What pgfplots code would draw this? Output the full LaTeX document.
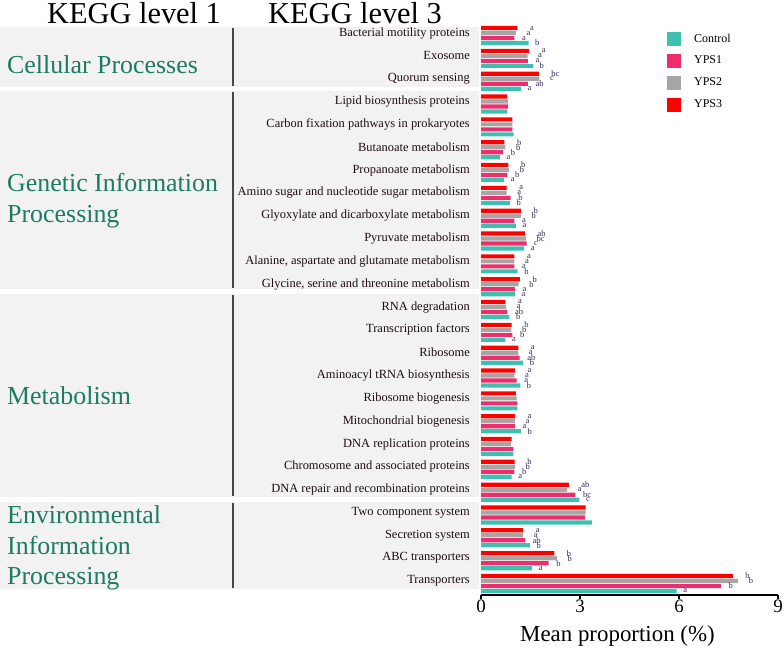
\documentclass[border=0pt]{standalone}
\usepackage{fontspec}
\setmainfont{Liberation Serif}
\usepackage{pgfplots}
\usepackage{pgfplotstable}
\pgfplotsset{compat=1.18}
\definecolor{cctrl}{HTML}{3CC1B1}
\definecolor{cyps1}{HTML}{EF2D6C}
\definecolor{cyps2}{HTML}{A6A6A6}
\definecolor{cyps3}{HTML}{FF0000}
\definecolor{boxgray}{HTML}{F2F2F2}
\definecolor{grpgreen}{HTML}{1E7B63}
\definecolor{letcol}{HTML}{2E2A5C}
\definecolor{catcol}{HTML}{1E0C10}

\pgfplotstableread{
pos ctrl lc yA lA yB lB yC lC
24 1.44 b 1.01 a 1.06 a 1.10 a
23 1.57 b 1.42 a 1.41 a 1.46 a
22 1.21 a 1.42 ab 1.77 c 1.75 bc
21 0.80 {} 0.82 {} 0.82 {} 0.79 {}
20 0.99 {} 0.95 {} 0.95 {} 0.95 {}
19 0.57 a 0.67 b 0.74 b 0.71 b
18 0.70 a 0.80 b 0.85 b 0.83 b
17 0.88 b 0.90 b 0.78 a 0.78 a
16 1.06 a 1.01 a 1.21 b 1.21 b
15 1.31 a 1.38 c 1.36 bc 1.33 ab
14 1.11 b 1.01 a 1.01 a 1.01 a
13 1.03 a 1.03 a 1.14 b 1.18 b
12 0.86 b 0.80 ab 0.76 a 0.74 a
11 0.74 a 0.95 b 0.92 b 0.93 b
10 1.28 b 1.17 ab 1.13 a 1.13 a
9 1.19 b 1.08 a 1.01 a 1.03 a
8 1.10 {} 1.10 {} 1.08 {} 1.06 {}
7 1.21 b 1.03 a 1.03 a 1.03 a
6 0.98 {} 0.98 {} 0.91 {} 0.93 {}
5 0.93 a 1.01 b 1.03 b 1.02 b
4 2.98 c 2.86 bc 2.61 a 2.66 ab
3 3.36 {} 3.15 {} 3.17 {} 3.17 {}
2 1.48 b 1.33 ab 1.28 a 1.28 a
1 1.55 a 2.05 b 2.30 b 2.22 b
0 5.93 a 7.27 b 7.79 b 7.63 b
}\data

\begin{document}
\begin{tikzpicture}
\useasboundingbox (0,0) rectangle (784bp,-649bp);
% group backgrounds
\fill[boxgray] (0,-27bp) rectangle (479bp,-87bp);
\fill[boxgray] (0,-91bp) rectangle (479bp,-289bp);
\fill[boxgray] (0,-294bp) rectangle (479bp,-497bp);
\fill[boxgray] (0,-502bp) rectangle (479bp,-589bp);
\begin{scope}[line width=1.6bp, draw=black!72]
\draw (233bp,-28bp) -- (233bp,-86bp);
\draw (233bp,-92bp) -- (233bp,-288bp);
\draw (233bp,-295bp) -- (233bp,-496bp);
\draw (233bp,-503bp) -- (233bp,-588bp);
\end{scope}
% titles
\node[anchor=base, font=\fontsize{30.5}{34}\selectfont] at (134bp,-23bp) {KEGG level 1};
\node[anchor=base, font=\fontsize{30.5}{34}\selectfont] at (355bp,-23bp) {KEGG level 3};
% level 1 labels
\begin{scope}[every node/.style={anchor=base west, inner sep=0pt, text=grpgreen, font=\fontsize{26}{30}\selectfont}]
\node at (7bp,-73bp) {Cellular Processes};
\node at (7bp,-191bp) {Genetic Information};
\node at (7bp,-222bp) {Processing};
\node at (7bp,-404bp) {Metabolism};
\node at (7bp,-523bp) {Environmental};
\node at (7bp,-554bp) {Information};
\node at (7bp,-584bp) {Processing};
\end{scope}
\begin{axis}[
  scale only axis, width=297bp, height=572bp,
  at={(481bp,-595bp)}, anchor=south west,
  xmin=0, xmax=9, ymin=-0.504, ymax=24.55,
  xtick={0,3,6,9}, ytick={0,...,24},
  yticklabels={Transporters, ABC transporters, Secretion system, Two component system,
    DNA repair and recombination proteins, Chromosome and associated proteins,
    DNA replication proteins, Mitochondrial biogenesis, Ribosome biogenesis,
    Aminoacyl tRNA biosynthesis, Ribosome, Transcription factors, RNA degradation,
    {Glycine, serine and threonine metabolism}, {Alanine, aspartate and glutamate metabolism},
    Pyruvate metabolism, Glyoxylate and dicarboxylate metabolism,
    Amino sugar and nucleotide sugar metabolism, Propanoate metabolism,
    Butanoate metabolism, Carbon fixation pathways in prokaryotes,
    Lipid biosynthesis proteins, Quorum sensing, Exosome, Bacterial motility proteins},
  axis x line*=bottom, axis y line*=left,
  y axis line style={draw=none}, ytick style={draw=none},
  x axis line style={line width=1.5bp, black, -},
  xtick style={line width=1.2bp, black}, xtick align=outside, major tick length=4bp,
  yticklabel style={inner sep=0pt, xshift=-7bp, yshift=2.5bp, text=catcol, font=\fontsize{12.5}{13}\selectfont},
  xticklabel style={font=\fontsize{19}{20}\selectfont, inner sep=1pt},
  /pgf/number format/assume math mode=true,
  xlabel={Mean proportion (\%)},
  xlabel style={font=\fontsize{23}{25}\selectfont, xshift=-12bp, yshift=-8bp},
  xbar, bar width=4.2bp,
  nodes near coords, point meta=explicit symbolic,
  nodes near coords style={font=\fontsize{8.5}{8.5}\selectfont, text=letcol, anchor=west, inner sep=0.5pt},
  legend style={draw=none, fill=none, at={(axis cs:5.636,24.18)}, anchor=north west,
    inner sep=0pt, font=\fontsize{12}{12}\selectfont, row sep=8bp,
    nodes={inner sep=0pt},
    /tikz/every odd column/.append style={column sep=13bp}},
  legend image code/.code={\fill[#1, draw=none] (0bp,-7bp) rectangle (14bp,7bp);},
  legend cell align=left,
  clip=false,
]
\addplot[fill=cctrl, draw=none, bar shift=-7.5bp,
  every node near coord/.append style={xshift=6bp}] table[x=ctrl, y=pos, meta=lc] {\data};
\addplot[fill=cyps1, draw=none, bar shift=-2.5bp,
  every node near coord/.append style={xshift=7bp}] table[x=yA, y=pos, meta=lA] {\data};
\addplot[fill=cyps2, draw=none, bar shift=2.5bp,
  every node near coord/.append style={xshift=10bp}] table[x=yB, y=pos, meta=lB] {\data};
\addplot[fill=cyps3, draw=none, bar shift=7.5bp,
  every node near coord/.append style={xshift=12bp}] table[x=yC, y=pos, meta=lC] {\data};
\legend{Control, YPS1, YPS2, YPS3}
\end{axis}
\end{tikzpicture}
\end{document}
